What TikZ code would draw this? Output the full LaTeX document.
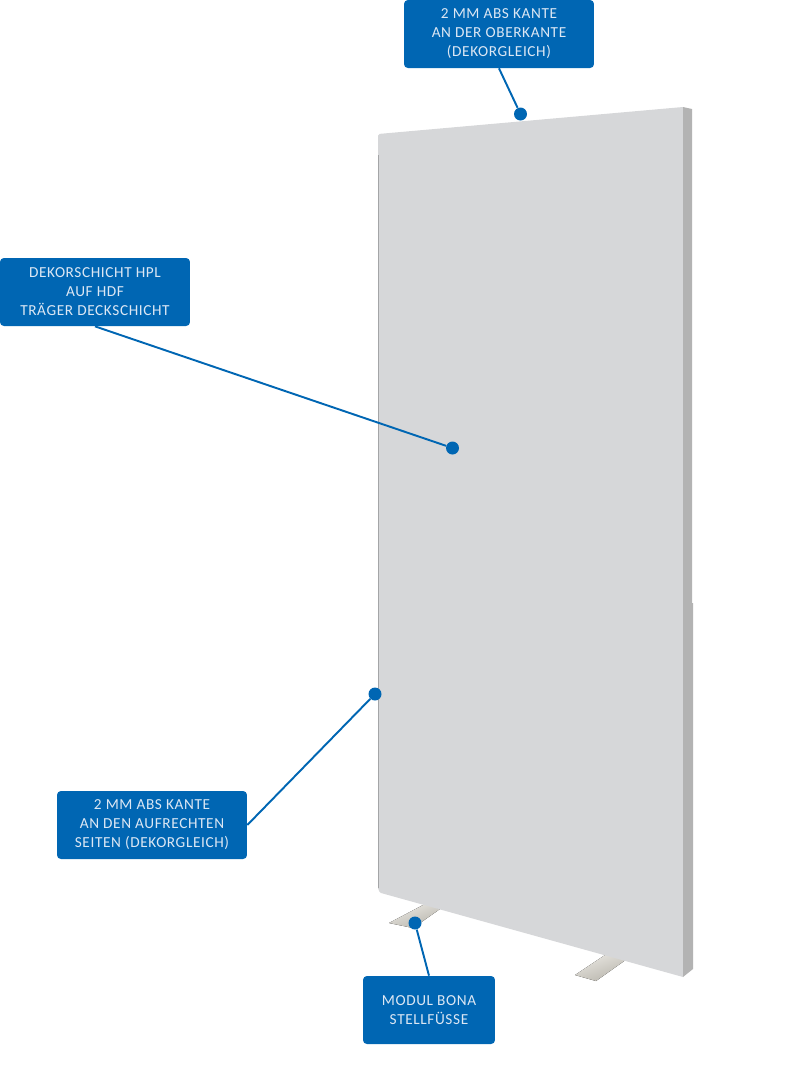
\documentclass[tikz,border=0pt]{standalone}
\usepackage{fontspec}
\setmainfont{Carlito}[LetterSpace=4]
\definecolor{calloutblue}{HTML}{0066B3}
\definecolor{panelfront}{HTML}{D6D7D9}
\definecolor{panelside}{HTML}{B3B3B3}
\definecolor{paneledge}{HTML}{A4A5A7}
\definecolor{calloutfont}{HTML}{DCE7F4}
\definecolor{footdark}{HTML}{B8B5AC}
\definecolor{footlight}{HTML}{EAE8E3}

\begin{document}
\begin{tikzpicture}[x=0.02cm, y=-0.02cm]
    % Styles
    \tikzstyle{callout} = [rectangle, fill=calloutblue, rounded corners=2.2pt, minimum width=3.8cm, minimum height=1.36cm, inner sep=0pt, align=center, text=calloutfont, font=\fontsize{8.7}{10.8}\selectfont]
    \tikzstyle{tipdot} = [circle, fill=calloutblue, minimum size=0.26cm, inner sep=0pt]
    \tikzstyle{leader} = [calloutblue, line width=1.1pt]
    \tikzstyle{foot} = [left color=footlight, right color=footdark, shading angle=20]

    \useasboundingbox (0, 0) rectangle (809, 1080);

    % Feet
    \fill[foot] (389, 923) -- (425, 904) -- (440, 909) -- (413, 928) -- cycle;
    \fill[foot] (575, 975) -- (608, 953) -- (627, 959) -- (596, 981) -- cycle;

    % Panel
    \fill[panelfront] (378, 134) -- (683, 107) -- (683, 977) -- (381, 893) [rounded corners=1pt] -- (378, 890) -- cycle;
    \fill[panelside] (683, 107) -- (692, 109) -- (692, 603) -- (693, 603) -- (693, 969) -- (683, 977) -- cycle;
    \draw[paneledge, line width=0.5pt] (378, 155) -- (378, 888);

    % Callouts
    \node[callout] (topbox) at (499, 34) {2 MM ABS KANTE\\AN DER OBERKANTE\\(DEKORGLEICH)};
    \node[callout] (decorbox) at (95, 292) {DEKORSCHICHT HPL\\AUF HDF\\TRÄGER DECKSCHICHT};
    \node[callout] (sidebox) at (152, 825) {2 MM ABS KANTE\\AN DEN AUFRECHTEN\\SEITEN (DEKORGLEICH)};
    \node[callout, minimum width=2.64cm] (footbox) at (429, 1010) {MODUL BONA\\STELLFÜSSE};

    % Dots
    \node[tipdot] (topdot) at (520.5, 114) {};
    \node[tipdot] (decordot) at (452.5, 448) {};
    \node[tipdot] (sidedot) at (375, 694) {};
    \node[tipdot] (footdot) at (415, 923) {};

    % Leaders
    \draw[leader] (topbox.south) -- (topdot);
    \draw[leader] (decorbox.south) -- (decordot);
    \draw[leader] (sidebox.east) -- (sidedot);
    \draw[leader] (footbox.north) -- (footdot);
\end{tikzpicture}
\end{document}
